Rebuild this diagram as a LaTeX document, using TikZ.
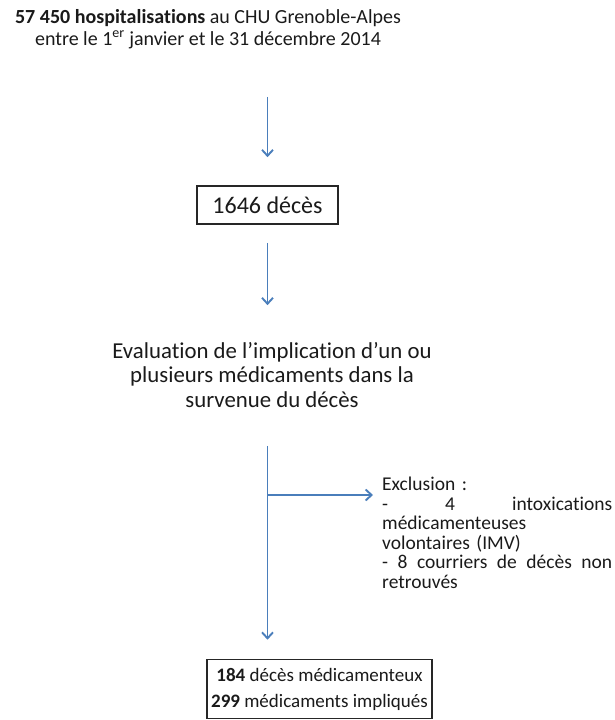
\documentclass[tikz,border=0pt]{standalone}
\usepackage{fontspec}
\setmainfont{Carlito}[Ligatures=NoCommon]
\usetikzlibrary{arrows.meta,positioning}
\definecolor{flink}{HTML}{1A1A1A}
\definecolor{flblue}{HTML}{4A7EBB}
\definecolor{flframe}{HTML}{262626}
\tikzset{
  fl text/.style={font=\fontsize{22.8}{24.5}\selectfont, text=flink, align=center, inner sep=0pt},
  fl box/.style={draw=flframe, line width=1.6pt, fill=white, inner sep=0pt,
    align=center, text=flink},
  fl arrow/.style={-{Straight Barb[length=6pt,width=11pt,line width=1.9pt]}, line width=1.9pt, draw=flblue},
  fl note/.style={font=\fontsize{19.5}{19.5}\selectfont, text=flink, text width=230pt,
    align=left, inner sep=0pt}
}

\begin{document}
\begin{tikzpicture}[x=1pt, y=-1pt]
  \useasboundingbox (0,0) rectangle (614,720);
  \node[fl text, font=\fontsize{20}{22}\selectfont] (hosp) at (208,29)
    {\textbf{57 450 hospitalisations} au CHU Grenoble-Alpes\\entre le 1\textsuperscript{er} janvier et le 31 décembre 2014};
  \node[fl box, font=\fontsize{24}{26}\selectfont, minimum width=141pt, minimum height=38pt] (deces) at (267.5,205) {1646 décès};
  \node[fl text] (eval) at (272,375)
    {Evaluation de l’implication d’un ou\\plusieurs médicaments dans la\\survenue du décès};
  \node[fl note, anchor=north west] (excl) at (382,477)
    {Exclusion~:\\
     \makebox[230pt]{-\hfill 4\hfill intoxications}\\
     médicamenteuses\\
     volontaires (IMV)\\
     \makebox[230pt]{-\hfill 8\hfill courriers\hfill de\hfill décès\hfill non}\\
     retrouvés};
  \node[fl box, font=\fontsize{19}{26}\selectfont, minimum width=225pt, minimum height=59pt] (medic) at (319.5,689)
    {\textbf{184} décès médicamenteux\\\textbf{299} médicaments impliqués};
  % connectors
  \coordinate (split) at (267.5,495);
  \draw[fl arrow, shorten <=48pt, shorten >=28pt] (hosp.south -| deces) -- (deces.north);
  \draw[fl arrow, shorten <=18pt, shorten >=37pt] (deces.south) -- (eval.north -| deces);
  \draw[fl arrow, shorten <=38pt, shorten >=19pt] (eval.south -| deces) -- (medic.north -| deces);
  \draw[fl arrow, shorten >=9pt] (split) -- (split -| excl.west);
\end{tikzpicture}
\end{document}
